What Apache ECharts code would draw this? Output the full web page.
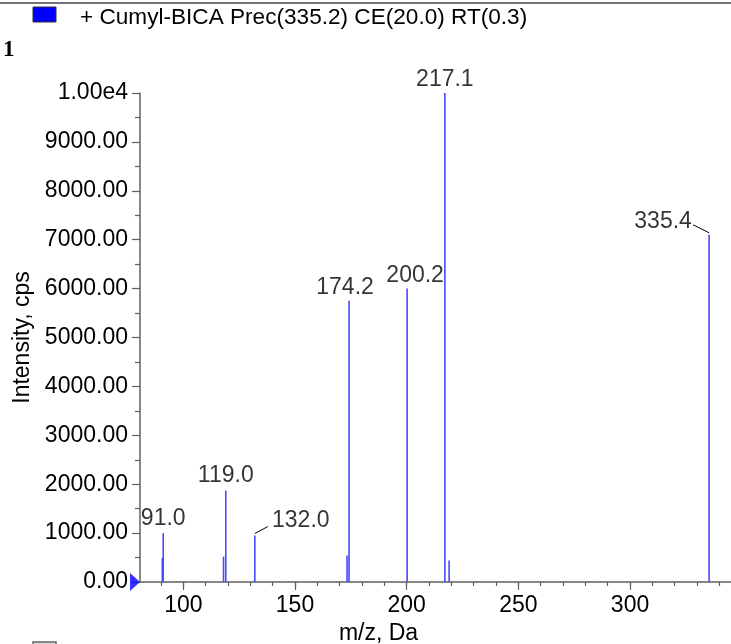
<!DOCTYPE html>
<html><head><meta charset="utf-8">
<script src="https://cdn.jsdelivr.net/npm/echarts@6/dist/echarts.min.js"></script>
<style>html,body{margin:0;padding:0;background:#fff}#c{width:731px;height:644px}</style>
</head><body><div id="c"></div>
<script>
const titleText = '+ Cumyl-BICA Prec(335.2) CE(20.0) RT(0.3)';
const panelNumber = '1';
const peakMz = [90.6, 91.0, 118.0, 119.0, 132.0, 173.3, 174.2, 200.2, 217.1, 219.0, 335.4];
const peakIntensity = [490, 1000, 520, 1870, 950, 540, 5750, 6000, 10000, 440, 7100];
const labeledMz = [91.0, 119.0, 132.0, 174.2, 200.2, 217.1, 335.4];
const labeledIntensity = [1000, 1870, 950, 5750, 6000, 10000, 7100];
const xMajorTicks = [100, 150, 200, 250, 300];
const xMinorTicks = [90, 100, 110, 120, 130, 140, 150, 160, 170, 180, 190, 200, 210, 220, 230, 240, 250, 260, 270, 280, 290, 300, 310, 320, 330, 340];
const xName = 'm/z, Da';
const yName = 'Intensity, cps';

const FONT = 'Liberation Sans, Arial, sans-serif';
const FS = 23;
const AX = '#606060';
const labelShift = {91.0:[0,0], 119.0:[0,0], 132.0:[46,0], 174.2:[-4,1], 200.2:[8,2], 217.1:[0,1], 335.4:[-46,1]};
// leader line: start offset from peak top, end offset from peak top (pixels)
const leader = {132.0:[[0,-2],[13,-9]], 335.4:[[0,-2],[-16,-10]]};

const chart = echarts.init(document.getElementById('c'));
const xCommon = {type:'value', min:80.6, max:345.2, splitLine:{show:false}};
const baseGraphic = [
  {type:'line', shape:{x1:0, y1:3, x2:731, y2:3}, style:{stroke:'#444', lineWidth:1.5}},
  {type:'rect', shape:{x:33, y:7, width:23, height:15}, style:{fill:'#0000ff', stroke:'#333', lineWidth:1}},
  {type:'text', x:80, y:18, style:{text:titleText, fontFamily:FONT, fontSize:22.6, fill:'#000', verticalAlign:'middle'}},
  {type:'text', x:3, y:50, style:{text:panelNumber, fontFamily:'Liberation Serif, serif', fontWeight:'bold', fontSize:23, fill:'#000', verticalAlign:'middle'}},
  {type:'rect', shape:{x:33, y:642, width:23, height:12}, style:{fill:'#ddd', stroke:'#666', lineWidth:1.5}}
];
chart.setOption({
  animation:false,
  backgroundColor:'#fff',
  grid:{left:140, top:93, right:0, bottom:62, outerBoundsMode:'none', containLabel:false},
  xAxis:[
    Object.assign({}, xCommon, {
      axisLine:{show:true, lineStyle:{color:AX, width:1.5}},
      axisTick:{show:true, length:4, customValues:xMinorTicks, lineStyle:{color:AX, width:1.2}},
      axisLabel:{customValues:xMajorTicks, margin:12, fontFamily:FONT, fontSize:FS, color:'#000'},
      name:xName, nameLocation:'middle', nameGap:40,
      nameTextStyle:{fontFamily:FONT, fontSize:FS, color:'#000', padding:[0,114,0,0]}
    }),
    Object.assign({}, xCommon, {
      position:'bottom',
      axisLine:{show:false},
      axisTick:{show:true, length:8, customValues:xMajorTicks, lineStyle:{color:AX, width:1.2}},
      axisLabel:{show:false}
    })
  ],
  yAxis:{
    type:'value', min:0, max:10000, interval:1000,
    splitLine:{show:false},
    axisLine:{show:true, lineStyle:{color:AX, width:1.5}},
    axisTick:{show:true, length:8, lineStyle:{color:AX, width:1.2}},
    minorTick:{show:true, splitNumber:2, length:5, lineStyle:{color:AX, width:1.2}},
    axisLabel:{margin:12, fontFamily:FONT, fontSize:FS, color:'#000',
      formatter:v => v === 10000 ? '1.00e4' : v.toFixed(2)},
    name:yName, nameLocation:'middle', nameGap:103,
    nameTextStyle:{fontFamily:FONT, fontSize:FS, color:'#000'}
  },
  graphic:baseGraphic,
  series:[
    {
      type:'bar', barWidth:1.6, barGap:'-100%',
      itemStyle:{color:'#4848ff'},
      data:peakMz.map((m,i)=>[m, peakIntensity[i]])
    },
    {
      type:'scatter', symbolSize:0, silent:true,
      data:labeledMz.map((m,i)=>[m, labeledIntensity[i]]),
      label:{show:true, position:'top', distance:3, fontFamily:FONT, fontSize:FS, color:'#000',
        formatter:p => p.value[0].toFixed(1)},
      labelLayout:p => {
        const m = labeledMz[p.dataIndex];
        const s = labelShift[m] || [0,0];
        return {dx:s[0], dy:s[1]};
      }
    },
    {
      type:'scatter', symbol:'triangle', symbolRotate:-90, symbolSize:[18,10],
      symbolOffset:[-5,0], clip:false, silent:true,
      itemStyle:{color:'#0000ff'},
      data:[[80.6, 0]]
    }
  ]
});
const leaderGraphics = labeledMz.filter(m => leader[m]).map(m => {
  const i = labeledMz.indexOf(m);
  const p = chart.convertToPixel({xAxisIndex:0, yAxisIndex:0}, [m, labeledIntensity[i]]);
  const [a, b] = leader[m];
  return {type:'line', shape:{x1:p[0]+a[0], y1:p[1]+a[1], x2:p[0]+b[0], y2:p[1]+b[1]}, style:{stroke:'#000', lineWidth:1}};
});
chart.setOption({graphic:baseGraphic.concat(leaderGraphics)});
</script></body></html>
